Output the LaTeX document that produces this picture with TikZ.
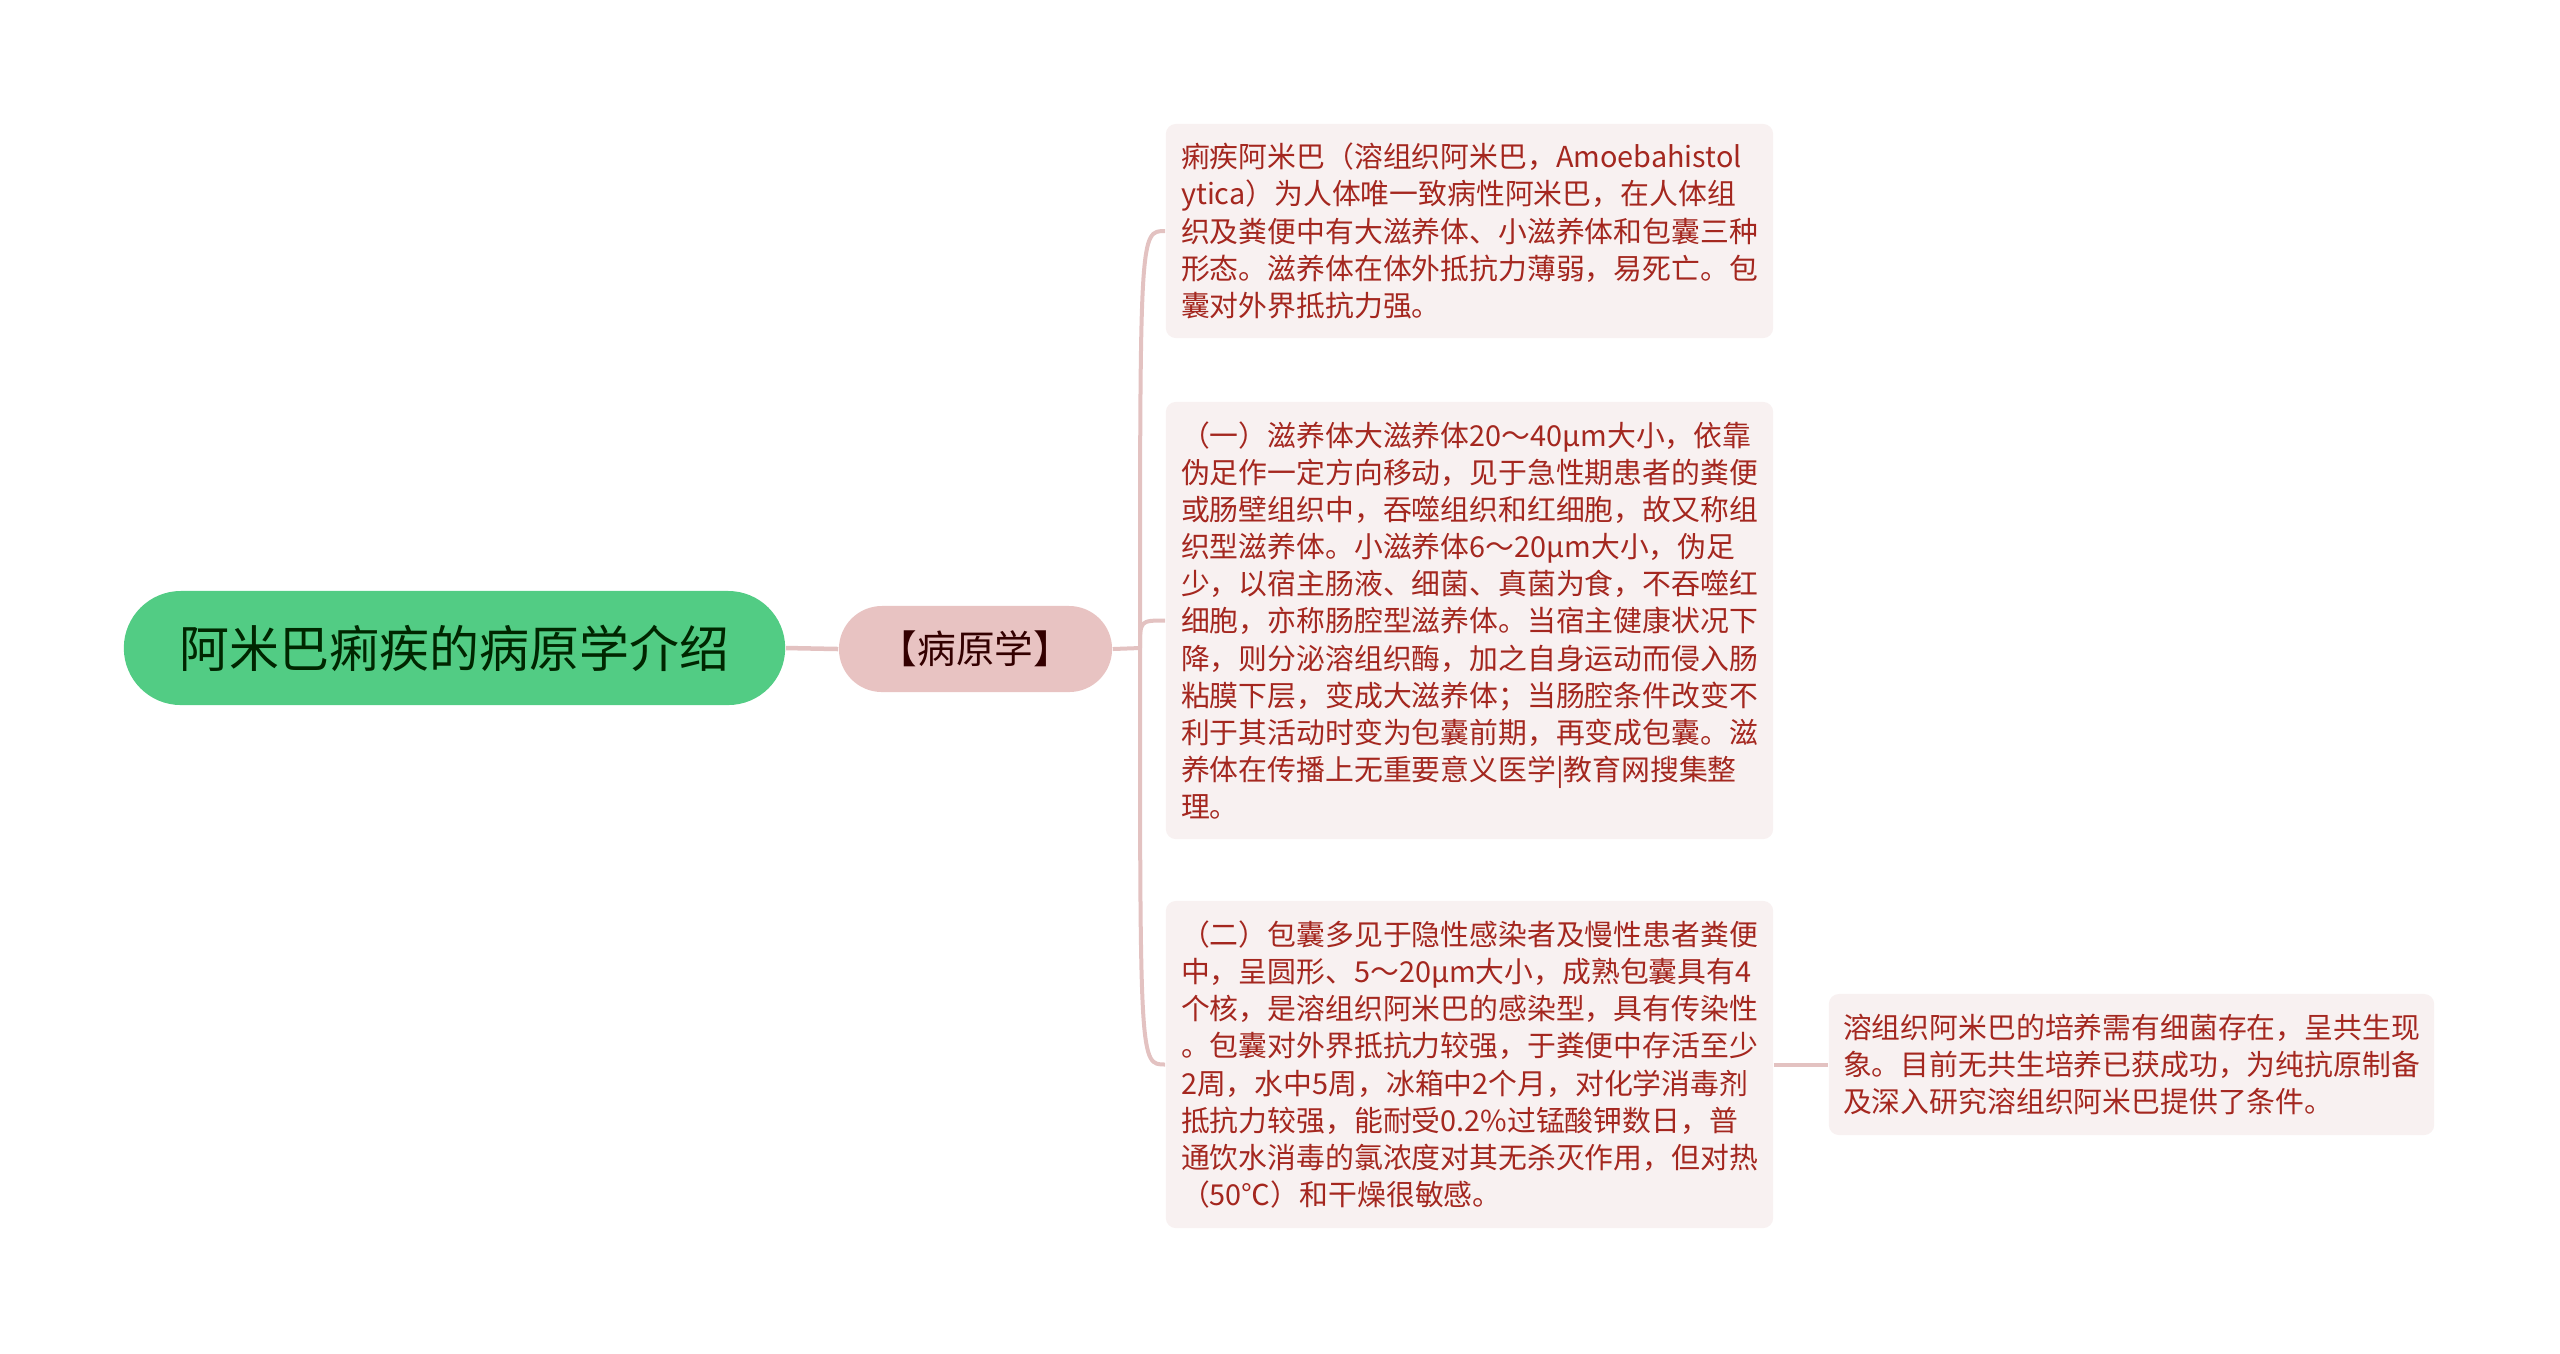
\documentclass[tikz,border=0pt]{standalone}
\usepackage{fontspec}
\setmainfont{Noto Sans CJK SC}
\usepackage{tikz}

\definecolor{wurzelgruen}{HTML}{52CC84}
\definecolor{astrosa}{HTML}{E8C3C2}
\definecolor{blattgrund}{HTML}{F8F1F1}
\definecolor{blatttext}{HTML}{A4271F}
\definecolor{linienrosa}{HTML}{E3C2C1}

\begin{document}
\begin{tikzpicture}[x=0.01cm,y=-0.01cm,
	wurzel/.style={fill=wurzelgruen, text=black!85!green, rounded corners=0.57cm, minimum width=6.61cm, minimum height=1.14cm, font=\fontsize{14.2pt}{17pt}\selectfont},
	ast/.style={fill=astrosa, text=black!80!red, rounded corners=0.43cm, minimum width=2.73cm, minimum height=0.86cm, font=\fontsize{11pt}{13pt}\selectfont},
	blatt/.style={fill=blattgrund, text=blatttext, rounded corners=0.1cm, minimum width=6.07cm, align=left, font=\fontsize{8.2pt}{10.55pt}\selectfont},
	verbindung/.style={draw=linienrosa, line width=0.04cm}]
	
	\useasboundingbox (0,0) rectangle (2560,1353);
	
	%Knoten
	\node[wurzel] (wurzel) at (454.5,648) {阿米巴痢疾的病原学介绍};
	\node[ast] (erreger) at (975.5,649) {【病原学】};
	\node[blatt, minimum height=2.14cm] (form) at (1469.5,231) {痢疾阿米巴（溶组织阿米巴，Amoebahistol\\ytica）为人体唯一致病性阿米巴，在人体组\\织及粪便中有大滋养体、小滋养体和包囊三种\\形态。滋养体在体外抵抗力薄弱，易死亡。包\\囊对外界抵抗力强。};
	\node[blatt, minimum height=4.37cm] (trophozoit) at (1469.5,620.5) {（一）滋养体大滋养体20～40μm大小，依靠\\伪足作一定方向移动，见于急性期患者的粪便\\或肠壁组织中，吞噬组织和红细胞，故又称组\\织型滋养体。小滋养体6～20μm大小，伪足\\少，以宿主肠液、细菌、真菌为食，不吞噬红\\细胞，亦称肠腔型滋养体。当宿主健康状况下\\降，则分泌溶组织酶，加之自身运动而侵入肠\\粘膜下层，变成大滋养体；当肠腔条件改变不\\利于其活动时变为包囊前期，再变成包囊。滋\\养体在传播上无重要意义医学|教育网搜集整\\理。};
	\node[blatt, minimum height=3.27cm] (zyste) at (1469.5,1064.5) {（二）包囊多见于隐性感染者及慢性患者粪便\\中，呈圆形、5～20μm大小，成熟包囊具有4\\个核，是溶组织阿米巴的感染型，具有传染性\\。包囊对外界抵抗力较强，于粪便中存活至少\\2周，水中5周，冰箱中2个月，对化学消毒剂\\抵抗力较强，能耐受0.2\%过锰酸钾数日，普\\通饮水消毒的氯浓度对其无杀灭作用，但对热\\（50℃）和干燥很敏感。};
	\node[blatt, minimum width=6.05cm, minimum height=1.41cm] (kultur) at (2131.5,1064.5) {溶组织阿米巴的培养需有细菌存在，呈共生现\\象。目前无共生培养已获成功，为纯抗原制备\\及深入研究溶组织阿米巴提供了条件。};
	
	%Verbindungen
	\coordinate (knick) at (1140,648);
	\draw[verbindung, line width=0.045cm] (wurzel.east) -- (erreger.west);
	\draw[verbindung] (erreger.east) -- (knick);
	\draw[verbindung] (knick) .. controls (knick |- form.west) .. (form.west); %oben
	\draw[verbindung] (knick) .. controls (knick |- trophozoit.west) .. (trophozoit.west); %Mitte
	\draw[verbindung] (knick) .. controls (knick |- zyste.west) .. (zyste.west); %unten
	\draw[verbindung] (zyste.east) -- (kultur.west);
	
\end{tikzpicture}
\end{document}
